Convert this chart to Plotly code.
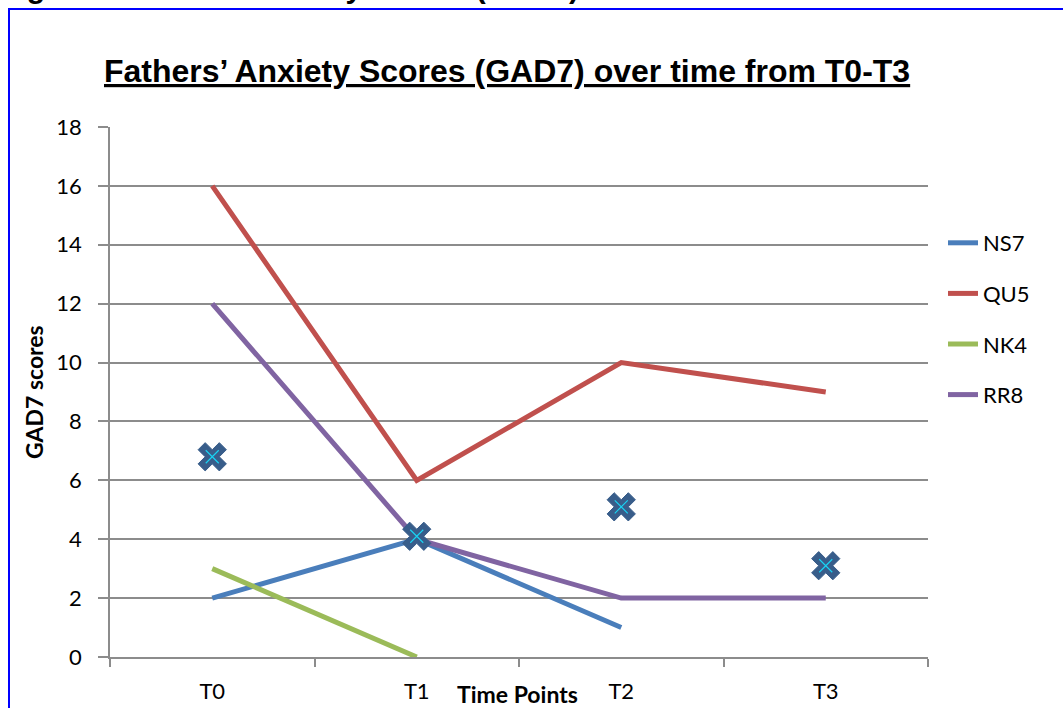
import plotly.graph_objects as go

# time points and per-father GAD7 scores
time_points = ["T0", "T1", "T2", "T3"]
ns7 = [2, 4, 1, None]
qu5 = [16, 6, 10, 9]
nk4 = [3, 0, None, None]
rr8 = [12, 4, 2, 2]
mean_marks = [6.8, 4.1, 5.1, 3.1]
y_ticks = [0, 2, 4, 6, 8, 10, 12, 14, 16, 18]

series = [
    ("NS7", ns7, "#4A7EBB"),
    ("QU5", qu5, "#C0504D"),
    ("NK4", nk4, "#9BBB59"),
    ("RR8", rr8, "#8064A2"),
]

W, H = 1063, 708
L, R, T, B = 110, 135, 127, 51
pw, ph = W - L - R, H - T - B

def px(x):
    return (x - L) / pw

def py(y):
    return (H - B - y) / ph

fig = go.Figure()

for name, vals, col in series:
    fig.add_trace(go.Scatter(
        x=time_points, y=vals, name=name, mode="lines",
        line=dict(color=col, width=5), legendgroup=name,
        connectgaps=False,
    ))

fig.add_trace(go.Scatter(
    x=time_points, y=mean_marks, mode="markers", showlegend=False,
    marker=dict(symbol="x", size=25, color="#385D8A",
                line=dict(width=1, color="#385D8A")),
))
fig.add_trace(go.Scatter(
    x=time_points, y=mean_marks, mode="markers", showlegend=False,
    marker=dict(symbol="x-thin-open", size=13,
                line=dict(width=1.2, color="#4A7EBB")),
))

grey = "#8C8C8C"
fig.update_xaxes(
    type="category", range=[-0.5, 3.5], tickson="boundaries",
    ticks="outside", ticklen=8, tickcolor=grey, tickwidth=1.5,
    showline=True, linecolor=grey, linewidth=1.5, showgrid=False,
    ticklabelstandoff=14, automargin=False,
    tickfont=dict(family="Lato", size=22, color="black"),
)
fig.update_yaxes(
    range=[0, 18], tickvals=y_ticks, ticks="outside", ticklen=10,
    tickcolor=grey, tickwidth=1.5, showline=True, linecolor=grey,
    linewidth=1.5, gridcolor=grey, gridwidth=1.5, zeroline=False,
    ticklabelstandoff=12, automargin=False,
    tickfont=dict(family="Lato", size=22, color="black"),
)

fig.update_layout(
    width=W, height=H,
    margin=dict(l=L, r=R, t=T, b=B, autoexpand=False),
    paper_bgcolor="white", plot_bgcolor="white",
    showlegend=True,
    legend=dict(
        x=px(943), y=py(222), xanchor="left", yanchor="top",
        font=dict(family="Lato", size=22, color="black"),
        tracegroupgap=19, bgcolor="rgba(0,0,0,0)",
    ),
    annotations=[
        dict(text="<b>Fathers’ Anxiety Scores (GAD7) over time from T0-T3</b>",
             x=px(507), y=py(71), xref="paper", yref="paper",
             showarrow=False, xanchor="center", yanchor="middle",
             font=dict(family="Liberation Sans", size=32, color="black",
                       lineposition="under")),
        dict(text="<b>Figure 8: Father's anxiety scores (GAD7) over time</b>",
             x=px(-2), y=py(-13), xref="paper", yref="paper",
             showarrow=False, xanchor="left", yanchor="middle",
             font=dict(family="Liberation Sans", size=30, color="black")),
        dict(text="<b>GAD7 scores</b>", textangle=-90,
             x=px(34), y=py(392), xref="paper", yref="paper",
             showarrow=False, xanchor="center", yanchor="middle",
             font=dict(family="Lato", size=23, color="black")),
        dict(text="<b>Time Points</b>",
             x=px(517), y=py(694), xref="paper", yref="paper",
             showarrow=False, xanchor="center", yanchor="middle",
             font=dict(family="Lato", size=23, color="black")),
    ],
    shapes=[
        dict(type="rect", xref="paper", yref="paper",
             x0=px(9), y0=py(730), x1=px(1090), y1=py(9),
             line=dict(color="#0000FF", width=2), layer="above"),
    ],
)

fig.write_html("out.html", config={"displayModeBar": False},
               post_script="document.body.style.margin='0px';")
